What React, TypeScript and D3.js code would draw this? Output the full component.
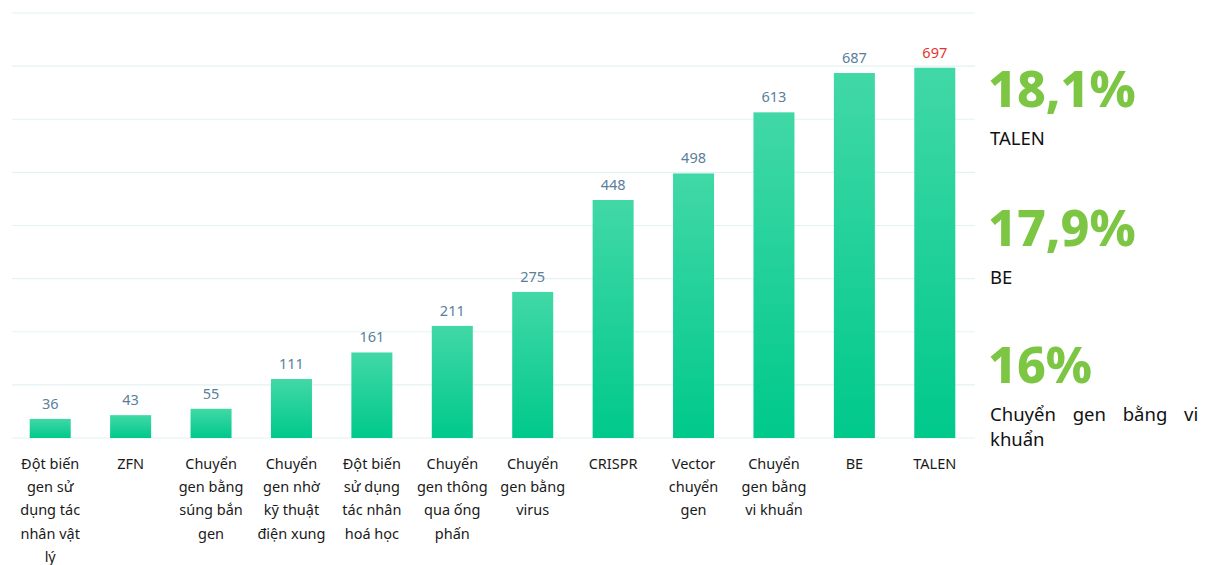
import React from 'react';
import * as d3 from 'd3';

const categories = [
  ['Đột biến', 'gen sử', 'dụng tác', 'nhân vật', 'lý'],
  ['ZFN'],
  ['Chuyển', 'gen bằng', 'súng bắn', 'gen'],
  ['Chuyển', 'gen nhờ', 'kỹ thuật', 'điện xung'],
  ['Đột biến', 'sử dụng', 'tác nhân', 'hoá học'],
  ['Chuyển', 'gen thông', 'qua ống', 'phấn'],
  ['Chuyển', 'gen bằng', 'virus'],
  ['CRISPR'],
  ['Vector', 'chuyển', 'gen'],
  ['Chuyển', 'gen bằng', 'vi khuẩn'],
  ['BE'],
  ['TALEN'],
];
const values = [36, 43, 55, 111, 161, 211, 275, 448, 498, 613, 687, 697];
const gridTicks = [0, 100, 200, 300, 400, 500, 600, 700, 800];

// top three, shown on the right
const topShares = ['18,1%', '17,9%', '16%'];
const topNames = [['TALEN'], ['BE'], ['Chuyển gen bằng vi', 'khuẩn']];

const W = 1211;
const H = 565;
const font = "'Noto Sans', 'Open Sans', sans-serif";

const App = () => {
  const x = d3
    .scaleBand<number>()
    .domain(d3.range(values.length))
    .range([10, 975])
    .paddingInner(0.49)
    .paddingOuter(0.245);

  const y = d3.scaleLinear().domain([0, 800]).range([438, 13]);

  const maxVal = d3.max(values);

  return (
    <svg width={W} height={H} style={{ position: 'absolute', left: 0, top: 0, background: '#fff' }}>
      <defs>
        <linearGradient id="barFill" x1="0" y1="0" x2="0" y2="1">
          <stop offset="0%" stopColor="#41d8a6" />
          <stop offset="100%" stopColor="#00c98b" />
        </linearGradient>
      </defs>

      {/* grid */}
      {gridTicks.map((t) => (
        <line key={t} x1={12} x2={975} y1={y(t)} y2={y(t)} stroke="#e2f3f1" strokeWidth={1.2} />
      ))}

      {/* bars */}
      {values.map((v, i) => (
        <rect
          key={i}
          x={x(i)}
          y={y(v)}
          width={x.bandwidth()}
          height={y(0) - y(v)}
          fill="url(#barFill)"
        />
      ))}

      {/* value labels */}
      {values.map((v, i) => (
        <text
          key={i}
          x={x(i)! + x.bandwidth() / 2}
          y={y(v) - 10}
          textAnchor="middle"
          fontFamily={font}
          fontSize={14.5}
          fill={v === maxVal ? '#e8322e' : '#5a7f9c'}
        >
          {v}
        </text>
      ))}

      {/* category labels */}
      {categories.map((lines, i) => (
        <text
          key={i}
          x={x(i)! + x.bandwidth() / 2}
          y={469}
          textAnchor="middle"
          fontFamily={font}
          fontSize={14.5}
          fill="#1a1a1a"
        >
          {lines.map((l, j) => (
            <tspan key={j} x={x(i)! + x.bandwidth() / 2} dy={j === 0 ? 0 : 23.2}>
              {l}
            </tspan>
          ))}
        </text>
      ))}

      {/* right side summary */}
      {topShares.map((s, i) => {
        const base = [107, 246, 383][i];
        return (
          <g key={i}>
            <text x={988} y={base} fontFamily={font} fontSize={50} fontWeight={800} fill="#7cc644">
              {s}
            </text>
            {topNames[i].map((n, j) => (
              <text
                key={j}
                x={990}
                y={base + 38 + j * 25}
                fontFamily={font}
                fontSize={18.5}
                fill="#111"
                wordSpacing={j === 0 && topNames[i].length > 1 ? 12 : 0}
              >
                {n}
              </text>
            ))}
          </g>
        );
      })}
    </svg>
  );
};

export default App;
